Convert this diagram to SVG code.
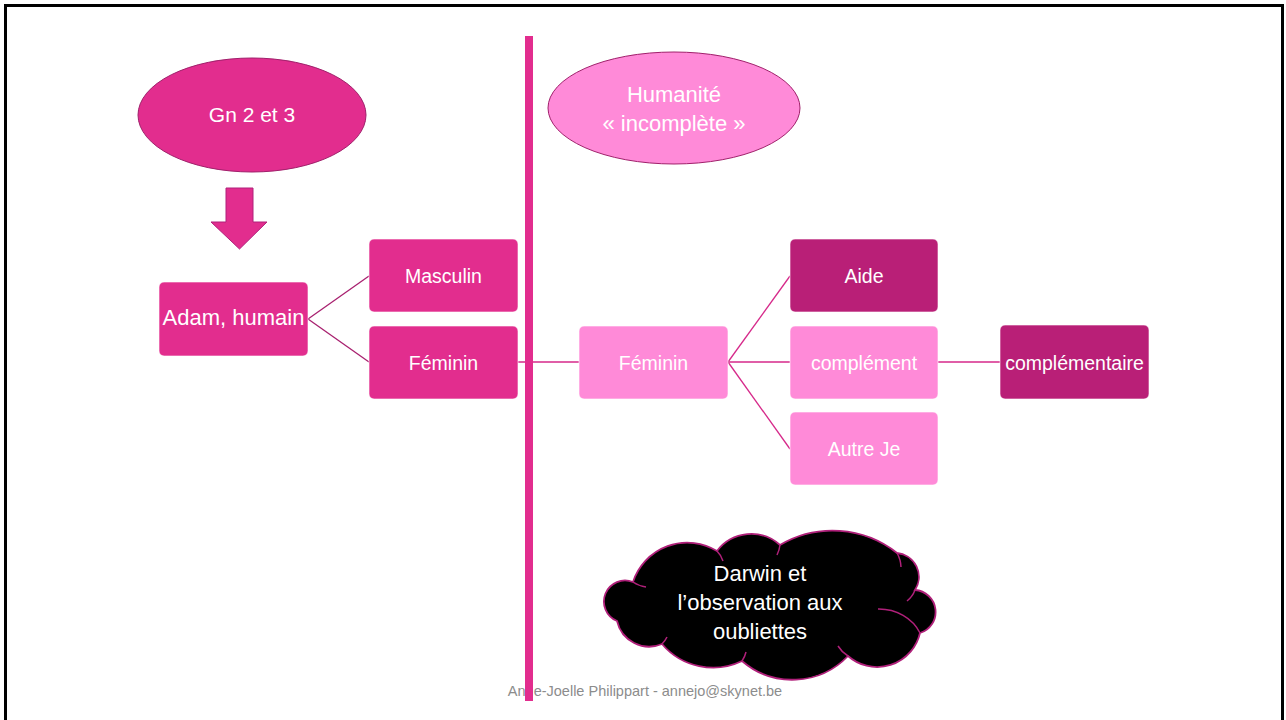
<svg xmlns="http://www.w3.org/2000/svg" width="1286" height="720" viewBox="0 0 1286 720">
<style>
.t{font-family:"Liberation Sans",Arial,sans-serif;fill:#ffffff;text-anchor:middle}
.b{font-size:19.5px}
.pk{fill:#E22D8E}
.lp{fill:#FF8AD8}
.dk{fill:#B91F77}
.box{stroke:#ffffff;stroke-width:1;stroke-opacity:0.6}
.c1{stroke:#A8206F;stroke-width:1.3;fill:none}
.c2{stroke:#D6298A;stroke-width:1.3;fill:none}
</style>
<rect width="1286" height="720" fill="#ffffff"/>
<path d="M5.5 720 V5.5 H1282.5 V720" fill="none" stroke="#000000" stroke-width="3"/>

<g id="connectors">
<line class="c1" x1="308" y1="319" x2="369" y2="276"/>
<line class="c1" x1="308" y1="319" x2="369" y2="362"/>
<line class="c2" x1="518" y1="362" x2="580" y2="362"/>
<line class="c2" x1="728" y1="362" x2="790" y2="276"/>
<line class="c2" x1="728" y1="362" x2="790" y2="362"/>
<line class="c2" x1="728" y1="362" x2="790" y2="449"/>
<line class="c2" x1="938" y1="362" x2="1000" y2="362"/>
</g>

<g id="gn">
<ellipse cx="252" cy="115" rx="114" ry="57" class="pk" stroke="#A0206B" stroke-width="1"/>
<text class="t" x="252" y="122" font-size="21">Gn 2 et 3</text>
</g>

<g id="arrow">
<polygon points="226,188 253,188 253,222 267,222 239.5,249 211,222 226,222" class="pk" stroke="#B0207A" stroke-width="1"/>
</g>

<g id="adam">
<rect x="159" y="282" width="149" height="74" rx="5" class="pk box"/>
<text class="t" x="233.5" y="325" font-size="22">Adam, humain</text>
</g>

<g id="masculin">
<rect x="369" y="239" width="149" height="73" rx="5" class="pk box"/>
<text class="t b" x="443.5" y="283">Masculin</text>
</g>

<g id="feminin1">
<rect x="369" y="326" width="149" height="73" rx="5" class="pk box"/>
<text class="t b" x="443.5" y="370">Féminin</text>
</g>

<g id="humanite">
<ellipse cx="674" cy="108" rx="126" ry="56" class="lp" stroke="#A0206B" stroke-width="1"/>
<text class="t" x="674" y="102" font-size="22">Humanité</text>
<text class="t" x="674" y="131" font-size="22">« incomplète »</text>
</g>

<g id="feminin2">
<rect x="579" y="326" width="149" height="73" rx="5" class="lp box"/>
<text class="t b" x="653.5" y="370">Féminin</text>
</g>

<g id="aide">
<rect x="790" y="239" width="148" height="73" rx="5" class="dk box"/>
<text class="t b" x="864" y="283">Aide</text>
</g>

<g id="complement">
<rect x="790" y="326" width="148" height="73" rx="5" class="lp box"/>
<text class="t b" x="864" y="370">complément</text>
</g>

<g id="autreje">
<rect x="790" y="412" width="148" height="73" rx="5" class="lp box"/>
<text class="t b" x="864" y="456">Autre Je</text>
</g>

<g id="complementaire">
<rect x="1000" y="325" width="149" height="74" rx="5" class="dk box"/>
<text class="t b" x="1074.5" y="370">complémentaire</text>
</g>

<g id="darwin">
<path d="M617 621 A21 21 0 0 1 633 582 A57 57 0 0 1 717 551 A43 43 0 0 1 780 545 A104 104 0 0 1 897 553 A24 24 0 0 1 915 590 A22 22 0 0 1 920 633 A44 44 0 0 1 848 656 A77 77 0 0 1 742 661 A67 67 0 0 1 662 644 A33 33 0 0 1 617 621 Z" fill="#000000" stroke="#B0207A" stroke-width="1.8"/>
<path d="M633 582 A30 30 0 0 0 646 587 M717 551 A25 25 0 0 1 723 561 M780 545 A30 30 0 0 1 777 555 M897 553 A30 30 0 0 1 901 567 M915 590 A25 25 0 0 1 907 601 M920 633 A45 40 0 0 0 878 609 M848 656 A30 30 0 0 1 838 646 M742 661 A25 25 0 0 0 746 652 M662 644 A25 25 0 0 0 667 637" fill="none" stroke="#B0207A" stroke-width="1.5"/>
<text class="t" x="760" y="581" font-size="22">Darwin et</text>
<text class="t" x="760" y="610" font-size="22">l’observation aux</text>
<text class="t" x="760" y="639" font-size="22">oubliettes</text>
</g>

<text x="645" y="696" font-family="Liberation Sans, Arial, sans-serif" font-size="14.5" fill="#8C8C8C" text-anchor="middle">Anne-Joelle Philippart - annejo@skynet.be</text>

<rect x="525" y="36" width="8" height="665" fill="#E22D8E"/>
</svg>
